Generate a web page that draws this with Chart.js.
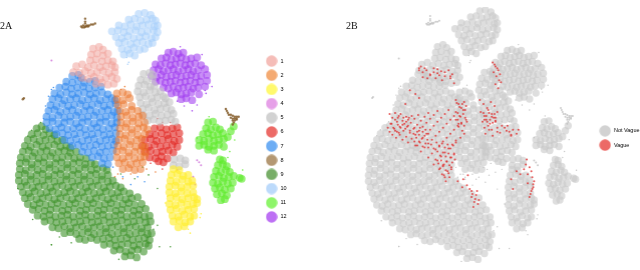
<!DOCTYPE html>
<html><head><meta charset="utf-8">
<script src="https://cdn.jsdelivr.net/npm/chart.js@4"></script>
<style>
html,body{margin:0;padding:0;background:#fff;width:640px;height:270px;overflow:hidden}
.box{position:absolute}
.tag{position:absolute;font-family:"Liberation Serif",serif;font-size:10px;color:#111;line-height:10px}
</style></head><body>
<div class="box" style="left:0;top:4px;width:295.5px;height:270px"><canvas id="a"></canvas></div>
<div class="box" style="left:320px;top:3px;width:328.5px;height:270px"><canvas id="b"></canvas></div>
<div class="tag" style="left:0;top:21px">2A</div>
<div class="tag" style="left:346px;top:21px">2B</div>
<script>
// Flat lists of x,y values (units: reference panel 2A)
const c1=[90,46,96,44,100,47,88,52,94,51,100,53,105,51,87,58,93,57,99,59,105,58,110,59,73,64,79,62,85,65,91,63,97,65,103,64,109,63,112,65,70,70,76,71,82,69,88,71,94,70,100,69,106,71,112,70,79,76,85,77,91,75,97,77,103,76,109,75,114,77,93,82,99,81,105,83,111,82];
const c2=[114,92,120,91,125,93,114,98,120,99,127,97,115,104,121,103,129,105,117,110,123,111,129,109,135,110,118,116,124,115,130,117,136,116,140,115,118,122,124,123,130,121,136,123,142,122,117,128,123,127,129,129,135,128,141,127,145,129,117,134,123,135,129,133,135,135,142,134,116,140,122,139,128,141,134,140,139,139,115,146,121,147,127,145,133,147,139,146,142,147,114,152,120,151,126,153,132,152,138,151,143,153,114,158,120,159,126,157,132,159,138,158,142,157,116,164,122,163,128,165,134,164,140,163,120,170,126,169,132,171,138,170];
const c3=[171,170,177,171,169,176,175,175,181,177,186,176,168,182,174,183,180,181,186,183,190,182,167,188,173,187,179,189,185,188,191,187,167,194,173,195,179,193,185,195,191,194,168,200,174,199,180,201,186,200,192,199,195,201,167,206,173,207,179,205,185,207,191,206,195,205,168,212,174,211,180,213,186,212,192,211,170,218,176,219,182,217,188,219,192,218,171,224,177,223,183,225,188,224,176,230,182,229];
const c4=[195,161,197,163,199,166,48,58,191,178,193,186,175,171];
const c5=[141,72,147,71,150,73,138,78,144,79,150,77,136,84,142,83,148,85,152,84,135,90,141,91,147,89,153,91,158,90,137,96,143,95,149,97,155,96,161,95,163,97,138,102,144,103,150,101,156,103,162,102,167,101,140,108,146,107,152,109,158,108,164,107,169,109,141,114,147,115,153,113,159,115,165,114,171,113,145,120,151,119,157,121,163,120,169,119,173,121,172,160,178,159,183,161,171,166,177,167,183,165];
const c6=[152,128,158,127,164,129,170,128,175,127,147,134,153,135,159,133,165,135,171,134,177,133,142,140,148,139,154,141,160,140,166,139,172,141,177,140,140,146,146,147,152,145,158,147,164,146,170,145,175,147,142,152,148,151,154,153,160,152,166,151,171,153,147,158,153,159,159,157,165,159,156,162,161,163];
const c7=[69,74,75,73,78,76,63,80,69,81,75,79,81,81,87,80,92,79,56,86,62,85,68,87,74,86,80,85,86,87,92,86,98,85,51,92,57,93,63,91,69,93,75,92,81,91,87,93,93,92,99,91,105,93,49,98,55,97,61,99,67,98,73,97,79,99,85,98,91,97,97,99,103,98,109,97,112,99,47,104,53,105,59,103,65,105,71,104,77,103,83,105,89,104,95,103,101,105,107,104,113,103,45,110,51,109,57,111,63,110,69,109,75,111,81,110,87,109,93,111,99,110,105,109,111,111,115,110,43,116,49,117,55,115,61,117,67,116,73,115,79,117,85,116,91,115,97,117,103,116,109,115,114,117,43,122,49,121,55,123,61,122,67,121,73,123,79,122,85,121,91,123,97,122,103,121,109,123,114,122,46,128,52,129,58,127,64,129,70,128,76,127,82,129,88,128,94,127,100,129,106,128,112,127,53,134,59,133,65,135,71,134,77,133,83,135,89,134,95,133,101,135,107,134,113,133,61,140,67,141,73,139,79,141,85,140,91,139,97,141,103,140,109,139,113,141,69,146,75,145,81,147,87,146,93,145,99,147,105,146,111,145,79,152,85,153,91,151,97,153,103,152,110,151,89,158,95,157,101,159,107,158,99,164,105,165];
const c8=[78,23,80,22,82,23,84,22,86,22,88,21,90,21,92,20,79,24,81,24,83,23,85,23,82,15,82,18,82,20,224,108,225,110,226,112,227,114,229,114,231,115,233,116,235,116,237,116,229,117,231,118,233,118,235,118,231,120,233,120,235,119,232,122,231,124,19,98,20,97];
const c9=[33,128,38,126,42,129,28,134,34,133,40,135,46,133,51,135,24,140,30,139,36,141,42,140,48,139,54,141,59,140,21,146,27,147,33,145,39,147,45,146,51,145,57,147,63,146,67,148,19,152,25,151,31,153,37,152,43,151,49,153,55,152,61,151,67,153,73,152,17,158,23,159,29,157,35,159,41,158,47,157,53,159,59,158,65,157,71,159,77,158,83,159,16,164,22,163,28,165,34,164,40,163,46,165,52,164,58,163,64,165,70,164,76,163,82,165,88,164,92,165,16,170,22,171,28,169,34,171,40,170,46,169,52,171,58,170,64,169,70,171,76,170,82,169,88,171,94,170,100,169,104,171,15,176,21,175,27,177,33,176,39,175,45,177,51,176,57,175,63,177,69,176,75,175,81,177,87,176,93,175,99,177,105,176,15,182,21,183,27,181,33,183,39,182,45,181,51,183,57,182,63,181,69,183,75,182,81,181,87,183,93,182,99,181,105,183,110,182,17,188,23,187,29,189,35,188,41,187,47,189,53,188,59,187,65,189,71,188,77,187,83,189,89,188,95,187,101,189,107,188,113,187,118,189,19,194,25,195,31,193,37,195,43,194,49,193,55,195,61,194,67,193,73,195,79,194,85,193,91,195,97,194,103,193,109,195,115,194,121,193,127,195,21,200,27,199,33,201,39,200,45,199,51,201,57,200,63,199,69,201,75,200,81,199,87,201,93,200,99,199,105,201,111,200,117,199,123,201,129,200,135,199,24,206,30,207,36,205,42,207,48,206,54,205,60,207,66,206,72,205,78,207,84,206,90,205,96,207,102,206,108,205,114,207,120,206,126,205,132,207,139,206,29,212,35,211,41,213,47,212,53,211,59,213,65,212,71,211,77,213,83,212,89,211,95,213,101,212,107,211,113,213,119,212,125,211,131,213,137,212,143,211,34,218,40,219,46,217,52,219,58,218,64,217,70,219,76,218,82,217,88,219,94,218,100,217,106,219,112,218,118,217,124,219,130,218,136,217,142,219,147,218,41,224,47,223,53,225,59,224,65,223,71,225,77,224,83,223,89,225,95,224,101,223,107,225,113,224,119,223,125,225,131,224,137,223,143,225,148,224,49,230,55,231,61,229,67,231,73,230,79,229,85,231,91,230,97,229,103,231,109,230,115,229,121,231,127,230,133,229,139,231,145,230,61,236,67,235,73,237,79,236,85,235,91,237,97,236,103,235,109,237,115,236,121,235,127,237,133,236,139,235,145,237,149,236,76,242,82,243,88,241,94,243,100,242,106,241,112,243,118,242,124,241,130,243,136,242,142,241,147,243,101,248,107,247,113,249,119,248,125,247,131,249,137,248,143,247,146,249,111,254,117,253,123,255,129,254,135,253,141,255,122,260,128,259,134,261];
const c10=[136,10,142,9,148,11,126,16,132,15,138,17,144,16,150,15,153,17,116,22,122,23,128,21,134,23,140,22,146,21,152,23,155,22,109,28,115,27,121,29,127,28,133,27,139,29,145,28,151,27,155,29,113,34,119,35,125,33,131,35,137,34,143,33,149,35,153,34,116,40,122,39,128,41,134,40,140,39,146,41,150,40,119,46,125,47,131,45,137,47,142,46,121,52,127,51,132,53];
const c11=[206,122,211,121,204,128,209,129,214,127,218,129,201,134,206,133,211,135,216,134,221,133,197,140,202,141,207,139,212,141,217,140,222,139,226,137,197,146,202,145,207,147,212,146,217,145,222,147,206,150,212,151,229,131,232,126,218,160,221,161,216,166,221,165,225,167,214,172,219,173,224,171,228,173,212,178,217,177,222,179,227,178,232,177,238,179,211,184,216,185,221,183,226,185,231,184,240,180,213,190,218,189,223,191,229,190,215,196,220,195,225,197,219,202,223,201];
const c12=[166,50,171,49,176,51,181,50,159,56,164,55,169,57,174,56,179,55,184,57,189,56,195,55,153,62,158,63,163,61,168,63,173,62,178,61,183,63,188,62,193,61,199,63,151,68,156,67,161,69,166,68,171,67,176,69,181,68,186,67,191,69,196,68,203,67,149,74,154,75,159,73,164,75,169,74,174,73,179,75,184,74,189,73,194,75,199,74,205,73,153,80,158,79,163,81,168,80,173,79,178,81,183,80,188,79,193,81,198,80,205,79,161,86,166,87,171,85,176,87,181,86,186,85,191,87,196,86,203,85,169,92,174,91,179,93,184,92,189,91,197,93,179,98,184,97,190,99];
// Sparse stray dots, drawn smaller
const s9=[37,122,28,130,24,136,14,190,29,222,48,248,56,240,68,246,155,228,151,232,157,250,168,250,48,248,140,168,116,263,146,176,132,180,155,190,118,175];
const s7=[50,86,45,95,42,105,40,118,120,178,128,186,135,178,142,183,110,168,48,88];
const s2=[112,178,115,175,120,180,144,170,153,173,128,175,118,88,122,85];
const s12=[178,44,200,52,203,89,210,85,182,105,190,110,195,104,175,100,204,92];
const s3=[186,232,188,236,199,216,163,205,165,198,198,220];
const s11=[207,116,233,140,228,152,241,171,195,138,226,158];
const s6=[160,122,155,118,148,164,160,170,168,122];
const s10=[137,3,124,55,126,60,125,62];
// Vague cases (red), same units
const vagueX=[36,40,44,48,38,43,47,52,56,41,46,50,54,58,62,45,49,53,57,61,65,69,52,56,60,64,68,72,76,80,58,62,66,70,74,78,82,86,90,66,70,74,78,82,86,90,94,98,102,72,76,80,84,88,92,96,100,104,108,80,84,88,92,96,100,104,108,112,86,90,94,98,102,106,110,92,96,100,104,108,97,101,105,99,103,70,74,78,82,86,90,94,98,102,106,72,79,88,95,104,108,110,113,116,119,110,114,118,121,112,116,120,113,117,122,115,119,136,140,144,148,152,137,141,145,149,153,139,143,147,151,155,141,145,149,153,142,146,150,155,150,153,156,151,154,157,152,155,158,153,156,159,163,168,172,158,166,170,176,178,187,190,192,193,194,192,190,193,195,186,188,176,170,172,125,128,131,134,127,130,133,129,132,135,112,117,122,127,118,123,60,66,70,55];
const vagueY=[128,124,120,116,132,129,125,121,117,135,132,128,124,120,116,138,135,131,127,123,119,115,140,137,133,129,125,121,117,113,143,139,135,131,127,123,119,115,111,146,142,138,134,130,126,122,118,114,110,152,148,144,140,136,132,128,124,120,116,158,154,150,146,142,138,134,130,126,165,161,157,153,149,145,141,170,166,162,158,154,176,172,168,182,178,68,72,70,75,68,73,71,76,70,74,66,78,78,80,78,83,100,104,108,102,112,116,110,106,120,124,118,127,131,122,138,134,100,104,108,102,106,112,116,110,114,118,122,120,124,118,112,128,126,130,122,134,130,136,132,62,66,70,72,76,80,64,68,74,84,88,82,128,132,130,133,126,136,134,130,160,168,172,178,185,192,198,190,182,165,175,172,180,190,190,195,200,205,198,203,192,208,196,201,182,188,186,192,180,176,90,94,98,104];
// Dense patches of vague cases
const vagueHot=[38,114,41,118,44,113,47,118,50,114,53,118,56,122,59,118,39,124,42,128,46,122,49,127,52,125,55,129,58,126,60,131,44,131,48,133,65,128,68,132,71,128,74,132,77,130,80,134,64,134,67,138,70,135,73,139,76,136,79,140,65,142,68,146,71,143,74,147,77,144,80,148,83,145,86,149,89,143,92,147,95,144,98,148,101,145,104,149,107,146,110,143,90,152,93,156,96,153,99,157,102,154,105,158,108,155,88,160,91,164,94,161,97,165,100,162,103,166,106,163,109,160,93,169,96,167,99,171,102,174,105,170,95,175,98,178,111,103,114,107,117,104,120,110,112,113,115,117,118,114,121,120,110,120,113,124,116,123,119,126,140,113,143,116,146,113,149,117,152,114,141,120,144,122,147,120,150,123,153,121,70,70,76,68,82,74,86,72,92,75,98,72,104,76,74,77,90,69,180,175,184,170,188,184,191,195,194,188,155,128,160,126,165,131,170,135];
const catNames=['1','2','3','4','5','6','7','8','9','10','11','12'];
const catValues=[c1,c2,c3,c4,c5,c6,c7,c8,c9,c10,c11,c12];
const strayValues=[null,s2,s3,null,null,s6,s7,null,s9,s10,s11,s12];
const dotColors=['rgba(240,160,152,.52)','rgba(234,115,40,.52)','rgba(255,238,40,.62)','rgba(205,110,215,.8)','rgba(195,195,195,.6)','rgba(226,38,34,.62)','rgba(45,135,238,.58)','rgba(130,90,40,.85)','rgba(60,145,40,.6)','rgba(165,205,250,.55)','rgba(95,235,45,.65)','rgba(160,60,240,.58)'];
const keyColors=['#f5bdb8','#f4aa72','#fff96e','#e6a0e8','#d2d2d2','#ec6a66','#6dadf4','#b49873','#78ae68','#bcdafb','#8ef56a','#bd70f4'];
const vagueNames=['Not Vague','Vague'];
const vagueKey=['#d2d2d2','#ec6a66'];

const pairs=f=>{const o=[];for(let i=0;i<f.length;i+=2)o.push({x:f[i],y:f[i+1]});return o;};
const disc=c=>{const k=document.createElement('canvas');k.width=k.height=12;const g=k.getContext('2d');g.fillStyle=c;g.beginPath();g.arc(6,6,5.7,0,Math.PI*2);g.fill();return k;};
const legendOpts=(keys)=>({position:'right',align:'center',
  labels:{usePointStyle:true,pointStyleWidth:12,padding:8.67,color:'#444',
    font:{family:'"Liberation Sans",sans-serif',size:5.5},
    filter:i=>!i.text.startsWith('_'),
    generateLabels:ch=>ch.data.datasets.map((d,i)=>({text:d.label,fillStyle:keys[i]||'#000',strokeStyle:'transparent',lineWidth:0,pointStyle:keys[i]?disc(keys[i]):'circle',datasetIndex:i,hidden:false}))}});
const common=(xr,yr,keys)=>({animation:false,responsive:true,maintainAspectRatio:false,
  layout:{padding:0},
  plugins:{legend:legendOpts(keys),tooltip:{enabled:false},title:{display:false}},
  scales:{x:{type:'linear',display:false,min:xr[0],max:xr[1]},y:{type:'linear',display:false,reverse:true,min:yr[0],max:yr[1]}}});

const dsA=catNames.map((n,i)=>({label:n,data:pairs(catValues[i]),pointRadius:i===7?1.2:(i===3?1:3.9),pointBackgroundColor:dotColors[i],pointBorderWidth:0}));
strayValues.forEach((s,i)=>{if(s)dsA.push({label:'_'+catNames[i],data:pairs(s),pointRadius:.8,pointBackgroundColor:dotColors[i].replace(/[\d.]+\)$/,'.9)'),pointBorderWidth:0});});
new Chart(document.getElementById('a'),{type:'scatter',data:{datasets:dsA},options:common([0,255.4],[4,274],keyColors)});

const allMain=catValues.filter((c,i)=>i!==7&&i!==3).flat();
const allThin=catValues[7].concat(catValues[3]);
const allStray=strayValues.filter(Boolean).flat();
const vaguePts=vagueX.map((x,i)=>({x,y:vagueY[i]})).concat(pairs(vagueHot));
const dsB=[
 {label:vagueNames[0],data:pairs(allMain),pointRadius:3.7,pointBackgroundColor:'rgba(200,200,200,.6)',pointBorderWidth:0,order:3},
 {label:vagueNames[1],data:vaguePts,pointRadius:1,pointBackgroundColor:'rgba(225,50,50,.85)',pointBorderWidth:0,order:1},
 {label:'_thin',data:pairs(allThin),pointRadius:1,pointBackgroundColor:'rgba(190,190,190,.8)',pointBorderWidth:0,order:2},
 {label:'_stray',data:pairs(allStray),pointRadius:.7,pointBackgroundColor:'rgba(190,190,190,.9)',pointBorderWidth:0,order:2}];
new Chart(document.getElementById('b'),{type:'scatter',data:{datasets:dsB},options:common([-33.4,256.2],[6,270.7],vagueKey)});
</script>
</body></html>
